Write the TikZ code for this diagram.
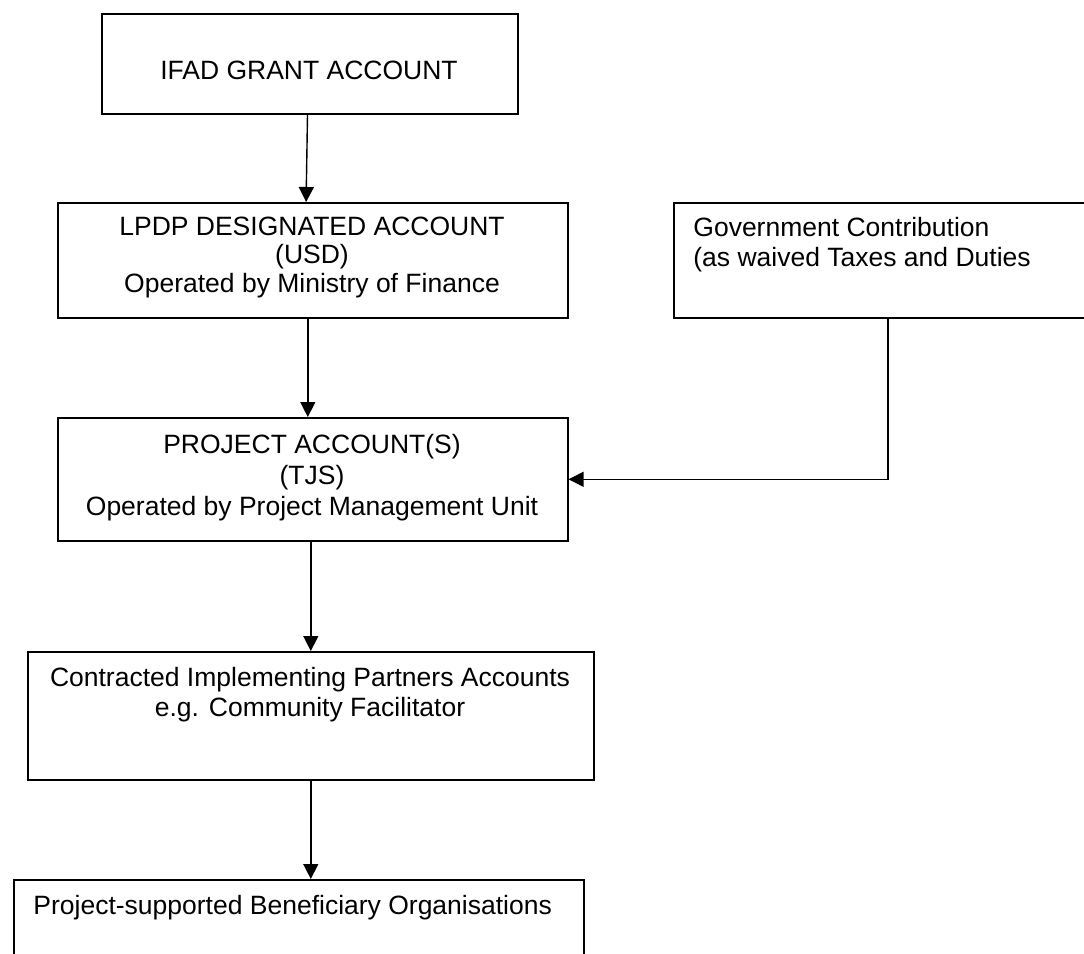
\documentclass[tikz,border=0pt]{standalone}
\usepackage{fontspec}
\setmainfont{Liberation Sans}
\usetikzlibrary{arrows.meta,calc}
\begin{document}
\begin{tikzpicture}[x=0.5pt,y=-0.5pt,
  box/.style={draw,line width=0.8pt,inner sep=0pt,anchor=north west},
  txt/.style={inner sep=0pt,font=\fontsize{13.25}{15}\selectfont},
  arr/.style={line width=0.7pt,-{Triangle[length=7.5pt,width=7.5pt]}}]
\clip (0,0) rectangle (1084,954);
% boxes
\node[box,minimum width=208pt,minimum height=50pt] (b1) at (101,13) {};
\node[box,minimum width=255pt,minimum height=57.5pt] (b2) at (57,202) {};
\node[box,minimum width=214pt,minimum height=57.5pt] (b3) at (673,202) {};
\node[box,minimum width=255pt,minimum height=61.5pt] (b4) at (57,417) {};
\node[box,minimum width=283pt,minimum height=64pt] (b5) at (27,651) {};
\node[box,minimum width=285pt,minimum height=60pt] (b6) at (13,879) {};
% texts
\node[txt,anchor=base] (t1) at (309,79.3) {IFAD GRANT ACCOUNT};
\node[txt,anchor=base] (t2a) at (312,235) {LPDP DESIGNATED ACCOUNT};
\node[txt,anchor=base] (t2b) at (312,263.5) {(USD)};
\node[txt,anchor=base] (t2c) at (312,292) {Operated by Ministry of Finance};
\node[txt,anchor=base west] (t3a) at (693,236.7) {Government Contribution};
\node[txt,anchor=base west] (t3b) at (693,266) {(as waived Taxes and Duties};
\node[txt,anchor=base] (t4a) at (312,453) {PROJECT ACCOUNT(S)};
\node[txt,anchor=base] (t4b) at (312,484) {(TJS)};
\node[txt,anchor=base] (t4c) at (312,515) {Operated by Project Management Unit};
\node[txt,anchor=base] (t5a) at (310,686.7) {Contracted Implementing Partners Accounts};
\node[txt,anchor=base] (t5b) at (310,716.7) {e.g. Community Facilitator};
\node[txt,anchor=base west] (t6) at (33,914) {Project-supported Beneficiary Organisations};
% connectors
\draw[arr] ($(b1.south)+(-2.3,0)$) -- ($(b2.north)+(-6.7,0)$);
\draw[arr] ($(b2.south)+(-5,0)$) -- ($(b4.north)+(-5,0)$);
\draw[arr] (b4.south -| b5.north) -- (b5.north);
\draw[arr] (b5.south) -- (b5.south |- b6.north);
\draw[arr] ($(b3.south west)+(215,0)$) |- (b4.east);
\end{tikzpicture}
\end{document}
